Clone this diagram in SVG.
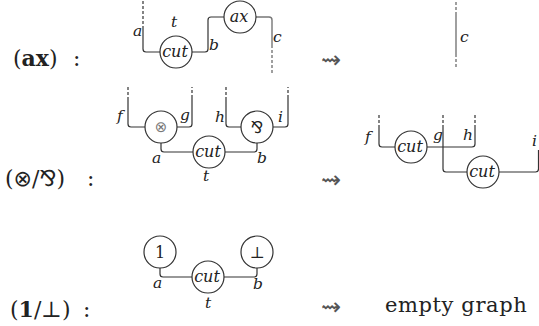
<svg xmlns="http://www.w3.org/2000/svg" width="539" height="326" viewBox="0 0 539 326">
<style>
.w{fill:none;stroke:#333;stroke-width:1.2}
.d{fill:none;stroke:#333;stroke-width:1.2;stroke-dasharray:3,2}
.gw{fill:none;stroke:#777;stroke-width:1.4}
.gd{fill:none;stroke:#777;stroke-width:1.4;stroke-dasharray:3,2}
.n{fill:#fff;stroke:#333;stroke-width:1.2}
.l{font-family:'DejaVu Serif',serif;font-style:italic;font-size:15.5px;fill:#222}
.c{font-family:'DejaVu Serif',serif;font-style:italic;font-size:16px;fill:#222;text-anchor:middle}
.s{font-family:'DejaVu Serif','DejaVu Sans',serif;font-size:16px;fill:#222;text-anchor:middle}
.h{font-family:'DejaVu Serif',serif;font-size:22px;fill:#222}
.ar{font-family:'DejaVu Sans',sans-serif;font-size:24px;fill:#555}
</style>
<g id="connectors">
<path class="d" d="M143,1 V26"/>
<path class="w" d="M143,26 V49 Q143,52 146,52 H160"/>
<path class="w" d="M192,52 H205 Q208,52 208,49 V20 Q208,17 211,17 H224"/>
<path class="gw" d="M256,17 H269 Q272,17 272,20 V45"/>
<path class="gd" d="M272,45 V73"/>
<path class="gd" d="M456,2 V15"/>
<path class="gw" d="M456,15 V54"/>
<path class="gd" d="M456,54 V67"/>
<path class="d" d="M128,87 V98"/>
<path class="w" d="M128,98 V124 Q128,127 131,127 H145"/>
<path class="w" d="M177,127 H189 Q192,127 192,124 V98"/>
<path class="d" d="M192,98 V87"/>
<path class="d" d="M226,87 V98"/>
<path class="w" d="M226,98 V124 Q226,127 229,127 H241"/>
<path class="w" d="M273,127 H285 Q288,127 288,124 V98"/>
<path class="d" d="M288,98 V87"/>
<path class="w" d="M161,143 V149 Q161,152 164,152 H193"/>
<path class="w" d="M225,152 H254 Q257,152 257,149 V143"/>
<path class="d" d="M379,115 V128"/>
<path class="w" d="M379,128 V144 Q379,147 382,147 H395"/>
<path class="w" d="M427,147 H472 Q475,147 475,144 V128"/>
<path class="d" d="M475,128 V115"/>
<path class="d" d="M443,115 V128"/>
<path class="w" d="M443,128 V169 Q443,172 446,172 H467"/>
<path class="w" d="M499,172 H535.5 Q538.5,172 538.5,169 V150"/>
<path class="w" d="M160,268 V274 Q160,277 163,277 H192"/>
<path class="w" d="M224,277 H254 Q257,277 257,274 V268"/>
</g>
<g id="n-cut1"><circle class="n" cx="176" cy="52" r="16"/><text class="c" x="175" y="57">cut</text></g>
<g id="n-ax"><circle class="n" cx="240" cy="17" r="16"/><text class="c" x="239" y="22">ax</text></g>
<g id="n-tensor"><circle class="n" cx="161" cy="127" r="16"/><text class="s" x="161" y="132" style="fill:#777;font-size:15px;font-family:'DejaVu Sans',sans-serif">⊗</text></g>
<g id="n-par"><circle class="n" cx="257" cy="127" r="16"/><text class="s" x="257" y="133" style="font-family:'DejaVu Sans',sans-serif">⅋</text></g>
<g id="n-cut2"><circle class="n" cx="209" cy="152" r="16"/><text class="c" x="208" y="157">cut</text></g>
<g id="n-cut3"><circle class="n" cx="411" cy="147" r="16"/><text class="c" x="410" y="152">cut</text></g>
<g id="n-cut4"><circle class="n" cx="483" cy="172" r="16"/><text class="c" x="482" y="177">cut</text></g>
<g id="n-one"><circle class="n" cx="160" cy="252" r="16"/><text class="c" x="160" y="258" style="font-style:normal">1</text></g>
<g id="n-bot"><circle class="n" cx="257" cy="252" r="16"/><text class="s" x="257" y="258">⊥</text></g>
<g id="n-cut5"><circle class="n" cx="208" cy="277" r="16"/><text class="c" x="207" y="282">cut</text></g>
<g id="labels">
<text class="l" x="133" y="36">a</text>
<text class="l" x="171" y="27">t</text>
<text class="l" x="209" y="50">b</text>
<text class="l" x="273" y="42">c</text>
<text class="l" x="460" y="42">c</text>
<text class="l" x="117" y="121">f</text>
<text class="l" x="180" y="120">g</text>
<text class="l" x="215" y="122">h</text>
<text class="l" x="278" y="122">i</text>
<text class="l" x="152" y="163">a</text>
<text class="l" x="257" y="163">b</text>
<text class="l" x="203" y="181">t</text>
<text class="l" x="365" y="142">f</text>
<text class="l" x="433" y="140">g</text>
<text class="l" x="463" y="140">h</text>
<text class="l" x="532" y="146">i</text>
<text class="l" x="153" y="288">a</text>
<text class="l" x="253" y="289">b</text>
<text class="l" x="205" y="308">t</text>
<text class="h" x="13" y="66">(<tspan font-weight="bold">ax</tspan>)</text>
<text class="h" x="73" y="66">:</text>
<text class="h" x="5" y="186">(<tspan font-family="DejaVu Sans">⊗</tspan>/<tspan font-family="DejaVu Sans">⅋</tspan>)</text>
<text class="h" x="87" y="186">:</text>
<text class="h" x="10" y="317">(<tspan font-weight="bold">1</tspan>/⊥)</text>
<text class="h" x="83" y="317">:</text>
<text class="ar" x="321" y="68">⇝</text>
<text class="ar" x="321" y="188">⇝</text>
<text class="ar" x="321" y="315">⇝</text>
<text class="h" x="385" y="312" style="font-size:21px;letter-spacing:0.6px">empty graph</text>
</g>
</svg>
